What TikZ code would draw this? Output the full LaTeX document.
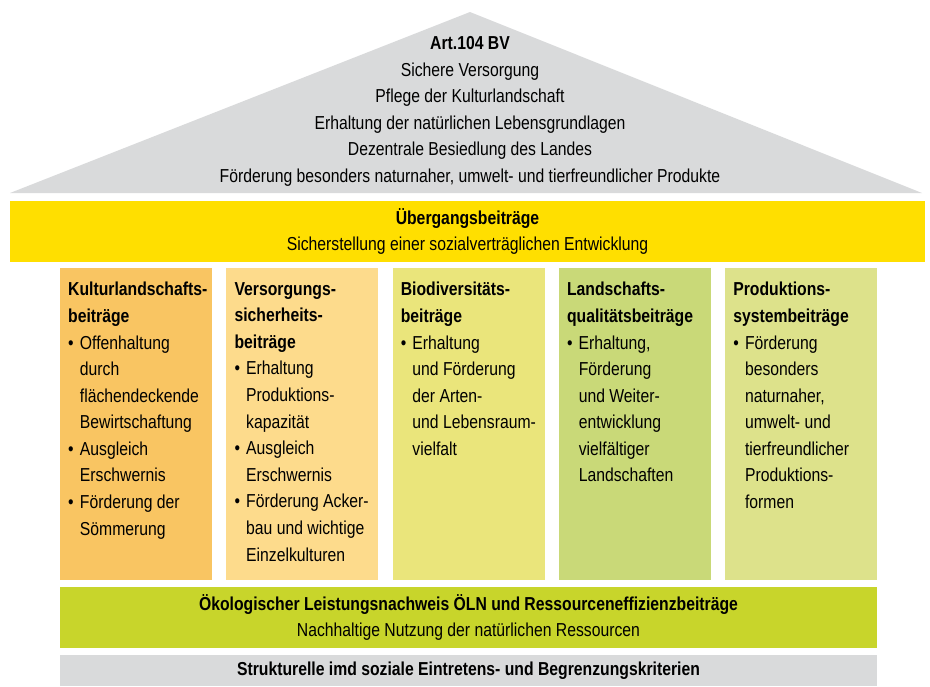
\documentclass[tikz,border=0pt]{standalone}
\usepackage{fontspec}
\setmainfont{Liberation Sans}[FakeStretch=0.84]
\usetikzlibrary{positioning}
\definecolor{roofgray}{HTML}{D9DADB}
\definecolor{uebyellow}{HTML}{FFDF00}
\definecolor{kulturcol}{HTML}{F9C562}
\definecolor{versorgcol}{HTML}{FDDB8C}
\definecolor{biodivcol}{HTML}{EAE57B}
\definecolor{lqcol}{HTML}{C9D978}
\definecolor{psbcol}{HTML}{DDE28B}
\definecolor{oelngreen}{HTML}{C8D52B}
\newlength{\bulw}\setlength{\bulw}{10pt}
\newcommand{\blt}{\makebox[\bulw][l]{\textbullet}}
\newcommand{\bltin}{\hspace*{\bulw}}

\begin{document}
\begin{tikzpicture}[x=0.3mm,y=-0.3mm,
     txt/.style={font=\fontsize{16}{22.7}\selectfont,inner sep=0pt},
     band/.style={txt,align=center,outer sep=0pt},
     col/.style={inner sep=0pt,outer sep=0pt,minimum width=45.6mm,minimum height=93.6mm,anchor=north west},
     coltext/.style={txt,align=left,anchor=north west}]
   \useasboundingbox (0,0) rectangle (930,686);
   % roof
   \fill[roofgray] (10,193) -- (470,12) -- (922,193) -- cycle;
   \node[band] (art) at (470,111.5) {\textbf{Art.104 BV}\\Sichere Versorgung\\Pflege der Kulturlandschaft\\
     Erhaltung der natürlichen Lebensgrundlagen\\Dezentrale Besiedlung des Landes\\
     Förderung besonders naturnaher, umwelt- und tierfreundlicher Produkte};
   % transition band
   \node[band,fill=uebyellow,minimum width=274.5mm,minimum height=18.3mm,anchor=north west] (ueb) at (10,201)
     {\textbf{Übergangsbeiträge}\\Sicherstellung einer sozialverträglichen Entwicklung};
   % five pillars
   \node[col,fill=kulturcol] (k1) at (60,268) {};
   \node[col,fill=versorgcol,right=4.28mm of k1.north east,anchor=north west] (k2) {};
   \node[col,fill=biodivcol,right=4.28mm of k2.north east,anchor=north west] (k3) {};
   \node[col,fill=lqcol,right=4.28mm of k3.north east,anchor=north west] (k4) {};
   \node[col,fill=psbcol,right=4.28mm of k4.north east,anchor=north west] (k5) {};
   \node[coltext] (t1) at ([shift={(8,14)}]k1.north west) {\textbf{Kulturlandschafts-}\\\textbf{beiträge}\\
     \blt Offenhaltung\\\bltin durch\\\bltin flächendeckende\\\bltin Bewirtschaftung\\
     \blt Ausgleich\\\bltin Erschwernis\\\blt Förderung der\\\bltin Sömmerung};
   \node[coltext] (t2) at ([shift={(8,14)}]k2.north west) {\textbf{Versorgungs-}\\\textbf{sicherheits-}\\\textbf{beiträge}\\
     \blt Erhaltung\\\bltin Produktions-\\\bltin kapazität\\\blt Ausgleich\\\bltin Erschwernis\\
     \blt Förderung Acker-\\\bltin bau und wichtige\\\bltin Einzelkulturen};
   \node[coltext] (t3) at ([shift={(8,14)}]k3.north west) {\textbf{Biodiversitäts-}\\\textbf{beiträge}\\
     \blt Erhaltung\\\bltin und Förderung\\\bltin der Arten-\\\bltin und Lebensraum-\\\bltin vielfalt};
   \node[coltext] (t4) at ([shift={(8,14)}]k4.north west) {\textbf{Landschafts-}\\\textbf{qualitätsbeiträge}\\
     \blt Erhaltung,\\\bltin Förderung\\\bltin und Weiter-\\\bltin entwicklung\\\bltin vielfältiger\\\bltin Landschaften};
   \node[coltext] (t5) at ([shift={(8,14)}]k5.north west) {\textbf{Produktions-}\\\textbf{systembeiträge}\\
     \blt Förderung\\\bltin besonders\\\bltin naturnaher,\\\bltin umwelt- und\\\bltin tierfreundlicher\\
     \bltin Produktions-\\\bltin formen};
   % foundation
   \node[band,fill=oelngreen,minimum width=245.1mm,minimum height=18.3mm,anchor=north west] (oeln) at (60,587)
     {\textbf{Ökologischer Leistungsnachweis ÖLN und Ressourceneffizienzbeiträge}\\Nachhaltige Nutzung der natürlichen Ressourcen};
   \node[band,fill=roofgray,minimum width=245.1mm,minimum height=9.3mm,anchor=north west] (strukt) at (60,655)
     {\textbf{Strukturelle imd soziale Eintretens- und Begrenzungskriterien}};
\end{tikzpicture}
\end{document}
